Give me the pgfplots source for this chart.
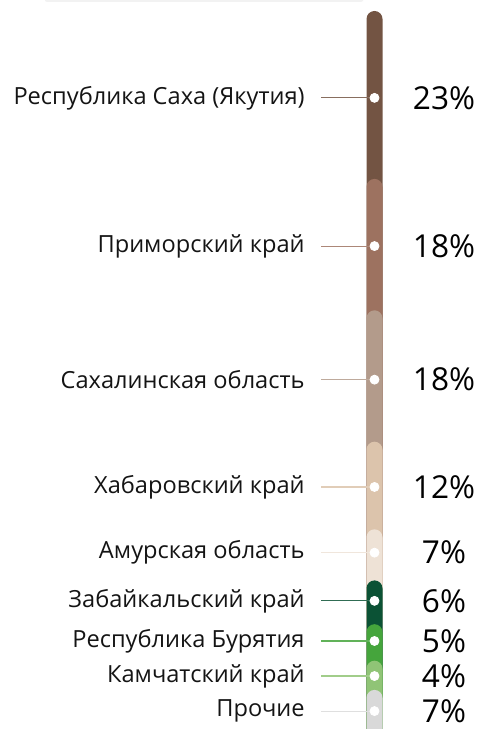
\documentclass[border=0pt]{standalone}
\usepackage{fontspec}
\setmainfont{Open Sans}
\usepackage{pgfplots}
\usepackage{pgfplotstable}
\pgfplotsset{compat=1.18}

\definecolor{c1}{HTML}{735443}
\definecolor{c2}{HTML}{9D7260}
\definecolor{c3}{HTML}{B39B8B}
\definecolor{c4}{HTML}{DCC4AC}
\definecolor{c5}{HTML}{EEE2D6}
\definecolor{c6}{HTML}{0B5235}
\definecolor{c7}{HTML}{45A53C}
\definecolor{c8}{HTML}{90C476}
\definecolor{c9}{HTML}{D9D9D9}

% name, share, top of segment (cumulative from bottom), label position
\pgfplotstableread[col sep=comma]{
name,pct,top,mid
Республика Саха (Якутия),23,100,88.1
Приморский край,18,77,67.8
Сахалинская область,18,59,49.5
Хабаровский край,12,41,34.8
Амурская область,7,29,25.8
Забайкальский край,6,22,19.2
Республика Бурятия,5,16,13.7
Камчатский край,4,11,8.9
Прочие,7,7,4.1
}\regions

% one segment: bar from 0 up to its top, then the leader line
\newcommand\seg[3]{%
  \addplot[ybar, bar width=8pt, bar shift=0pt, fill=#1, draw=none, rounded corners=4pt]
    coordinates {(374.5,#2)};
  \addplot[#1!85!white, line width=0.55pt] coordinates {(321,#3) (374.5,#3)};
}

\begin{document}
\begin{tikzpicture}
\begin{axis}[
  x=0.5pt, y=3.65pt,
  xmin=0, xmax=478, ymin=0, ymax=101.507,
  hide axis,
]
\coordinate (bl) at (axis cs:0,1.644);
\coordinate (tr) at (axis cs:478,101.507);
\fill[black!5, rounded corners=1pt] (axis cs:45,101.6) rectangle (axis cs:363,101.25);

\seg{c1}{100}{88.1}
\seg{c2}{77}{67.8}
\seg{c3}{59}{49.5}
\seg{c4}{41}{34.8}
\seg{c5}{29}{25.8}
\seg{c6}{22}{19.2}
\seg{c7}{16}{13.7}
\seg{c8}{11}{8.9}
\seg{c9}{7}{4.1}

\addplot[white, only marks, mark=*, mark size=2.25pt]
  table[x expr=374.5, y=mid] {\regions};

\addplot[draw=none, mark=none, point meta=explicit symbolic,
  nodes near coords={\pgfplotspointmeta},
  every node near coord/.append style={anchor=east, inner sep=0pt,
    font=\fontsize{11.8}{13}\selectfont, text=black!92}]
  table[x expr=305, y=mid, meta=name] {\regions};

\addplot[draw=none, mark=none, point meta=explicit symbolic,
  nodes near coords={\pgfplotspointmeta\%},
  every node near coord/.append style={anchor=center, inner sep=0pt,
    font=\fontsize{15.8}{17}\selectfont, text=black}]
  table[x expr=444, y=mid, meta=pct] {\regions};
\end{axis}
\pgfresetboundingbox
\path[use as bounding box] (bl) rectangle (tr);
\end{tikzpicture}
\end{document}
